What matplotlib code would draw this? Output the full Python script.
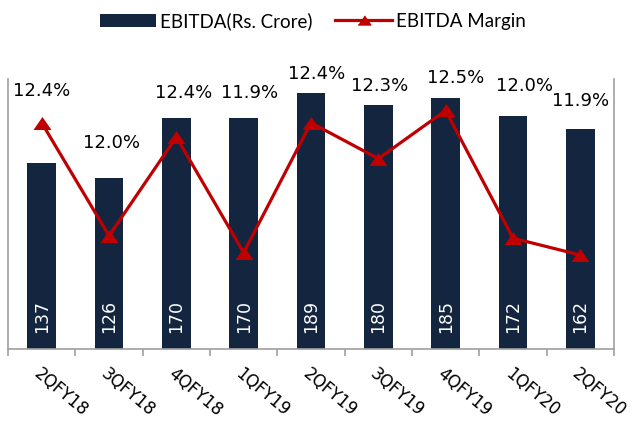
import numpy as np
import matplotlib.pyplot as plt
from matplotlib.patches import Patch
from matplotlib.lines import Line2D


quarters = ["2QFY18", "3QFY18", "4QFY18", "1QFY19", "2QFY19",
            "3QFY19", "4QFY19", "1QFY20", "2QFY20"]
ebitda = [137, 126, 170, 170, 189, 180, 185, 172, 162]
margin = [12.449, 11.98, 12.39, 11.91, 12.449, 12.30, 12.50, 11.97, 11.90]

# where the % labels sit (in bar units) and a small sideways nudge (points)
label_y = [190.5, 152, 188.5, 188.5, 203, 194, 199.5, 194, 183]
label_dx = [0, 2, 5, 4, 4, 1, 7, 8, 0]

navy = "#13253f"
red = "#c00000"
grey = "#a0a0a0"

fig = plt.figure(figsize=(6.36, 4.21), dpi=100)
ax = fig.add_axes([0.0126, 0.171, 0.9528, 0.641])
x = np.arange(len(quarters))

ax.bar(x, ebitda, width=0.43, color=navy, zorder=2)
ax.set_xlim(-0.5, len(quarters) - 0.5)
ax.set_ylim(0, 199)
ax.set_yticks([])

for xi, v in zip(x, ebitda):
    ax.annotate(str(v), (xi, 0), xytext=(0, 11.5), textcoords="offset points",
                rotation=90, ha="center", va="bottom", color="white",
                fontsize=12.5, family="DejaVu Sans")

ax.set_xticks(x)
ax.set_xticklabels(quarters, rotation=-40, ha="left", va="top",
                   rotation_mode="anchor", fontsize=12)
ax.set_xticks(np.arange(len(quarters) + 1) - 0.5, minor=True)
ax.tick_params(axis="x", which="major", length=0, pad=11)
ax.tick_params(axis="x", which="minor", length=5, width=1.2, color=grey)

for side in ["left", "right", "bottom"]:
    ax.spines[side].set_color(grey)
    ax.spines[side].set_linewidth(1.2)
ax.spines["top"].set_visible(False)

ax2 = ax.twinx()
tri = [(-1, -0.72), (1, -0.72), (0, 0.72)]
ax2.plot(x, margin, color=red, lw=2.3, marker=tri, markersize=13,
         markeredgewidth=0, zorder=3)
ax2.set_ylim(11.51, 12.63)
ax2.set_yticks([])
for s in ax2.spines.values():
    s.set_visible(False)

for xi, m, ly, dx in zip(x, margin, label_y, label_dx):
    ax.annotate(f"{m:.1f}%", (xi, ly), xytext=(dx, 0),
                textcoords="offset points", ha="center", va="center",
                fontsize=13, annotation_clip=False)

handles = [
    Patch(facecolor=navy, label="EBITDA(Rs. Crore)"),
    Line2D([], [], color=red, lw=2.3, marker=tri, markersize=9,
           label="EBITDA Margin"),
]
fig.legend(handles=handles, loc="center", bbox_to_anchor=(0.492, 0.95),
           ncol=2, frameon=False, prop={"family": "Lato", "size": 13.5},
           handlelength=3.0, handletextpad=0.25, columnspacing=1.2)

fig.savefig("out.png", dpi=100)
